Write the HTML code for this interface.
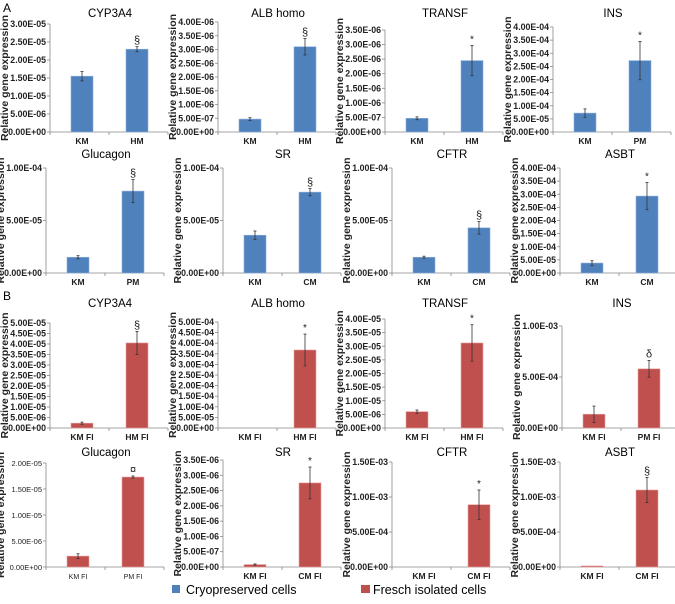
<!DOCTYPE html>
<html><head><meta charset="utf-8"><style>
html,body{margin:0;padding:0;background:#fff;}
body{width:675px;height:599px;overflow:hidden;font-family:"Liberation Sans",Arial,sans-serif;}
</style></head><body>
<svg id="fig" width="675" height="599" viewBox="0 0 675 599" xmlns="http://www.w3.org/2000/svg" font-family="Liberation Sans, Arial, sans-serif">
<text x="3" y="12" font-size="12">A</text>
<text x="3" y="300" font-size="12">B</text>
<g>
<rect x="172" y="585" width="8" height="8" fill="#4f81bd"></rect>
<text x="186" y="594" font-size="12.5">Cryopreserved cells</text>
<rect x="361" y="585" width="9" height="8" fill="#c0504d"></rect>
<text x="373" y="594" font-size="12.5">Fresch isolated cells</text>
</g>
</svg>
<script>
const titles = ["CYP3A4","ALB homo","TRANSF","INS","Glucagon","SR","CFTR","ASBT","CYP3A4","ALB homo","TRANSF","INS","Glucagon","SR","CFTR","ASBT"];
const catsA = [["KM","HM"],["KM","HM"],["KM","HM"],["KM","PM"],["KM","PM"],["KM","CM"],["KM","CM"],["KM","CM"]];
const catsB = [["KM FI","HM FI"],["KM FI","HM FI"],["KM FI","HM FI"],["KM FI","PM FI"],["KM FI","PM FI"],["KM FI","CM FI"],["KM FI","CM FI"],["KM FI","CM FI"]];
const values = [[1.55e-5,2.3e-5],[4.7e-7,3.1e-6],[4.7e-7,2.45e-6],[7.2e-5,2.72e-4],[1.5e-5,7.8e-5],[3.6e-5,7.7e-5],[1.5e-5,4.3e-5],[3.8e-5,2.93e-4],
  [2.3e-6,4.05e-5],[0,3.68e-4],[6e-6,3.12e-5],[1.35e-4,5.8e-4],[2.1e-6,1.73e-5],[8e-8,2.75e-6],[0,8.9e-4],[1.5e-5,1.1e-3]];
const errors = [[1.3e-6,7e-7],[5e-8,3e-7],[5e-8,5.2e-7],[1.6e-5,7.3e-5],[1.5e-6,1.1e-5],[4e-6,3.5e-6],[1e-6,6e-6],[9e-6,5.2e-5],
  [5e-7,5.5e-6],[0,7.5e-5],[6e-7,6.7e-6],[8e-5,8.2e-5],[4.5e-7,2e-7],[2e-8,5.2e-7],[0,2.1e-4],[0,1.8e-4]];
const axisMax = [3e-5,4e-6,3.5e-6,4e-4,1e-4,1e-4,1e-4,4e-4,5e-5,5e-4,4e-5,1e-3,2e-5,3.5e-6,1.5e-3,1.5e-3];
const axisStep = [5e-6,5e-7,5e-7,5e-5,5e-5,5e-5,5e-5,5e-5,5e-6,5e-5,5e-6,5e-4,5e-6,5e-7,5e-4,5e-4];
const sigMarks = ["§","§","*","*","§","§","§","*","§","*","*","δ","¤","*","*","§"];

const layoutAxisX = [50,218,385,553,46,223,392,560,50,218,385,562,46,223,392,560];
const layoutTop = [24,22,30,27,168,168,168,168,323,322,319,326,463,460,462,462];
const layoutBottom = [132,132,132,132,273,273,273,273,428,428,428,428,567,567,567,567];
const layoutTitleY = [17,17,17,17,158,158,158,158,307,307,307,307,456,456,456,456];

const NS="http://www.w3.org/2000/svg";
const svg=document.getElementById('fig');
function mk(tag,attrs,parent){const e=document.createElementNS(NS,tag);for(const k in attrs)e.setAttribute(k,attrs[k]);(parent||svg).appendChild(e);return e;}
function fmt(v){if(v===0)return "0.00E+00";let e=Math.floor(Math.log10(v)+1e-9);let m=v/Math.pow(10,e);if(m>=9.995){m/=10;e+=1;}const s=e<0?"-":"+";const a=Math.abs(e);return m.toFixed(2)+"E"+s+(a<10?"0":"")+a;}

for(let p=0;p<16;p++){
  const isB=p>=8;
  const color=isB?"#c0504d":"#4f81bd";
  const ax=layoutAxisX[p], top=layoutTop[p], bot=layoutBottom[p];
  const max=axisMax[p], step=axisStep[p];
  const yS=v=>bot-(v/max)*(bot-top);
  const g=mk('g',{});
  
  
  const t=mk('text',{x:ax+60,y:layoutTitleY[p],'font-size':11.5,'text-anchor':'middle'},g);
  t.textContent=titles[p];
  
  
  const yt=mk('text',{transform:`translate(${ax-42},${(top+bot)/2}) rotate(-90)`,'font-size':10.5,'font-weight':'bold','text-anchor':'middle',fill:'#222'},g);
  yt.textContent="Relative gene expression";
  
  
  const ya=mk('line',{x1:ax,y1:top,x2:ax,y2:bot,stroke:'#888','stroke-width':0.8},g);
  
  
  const xa=mk('line',{x1:ax,y1:bot,x2:ax+118,y2:bot,stroke:'#888','stroke-width':0.8},g);
  
  
  [0,59,118].forEach(o=>{mk('line',{x1:ax+o,y1:bot,x2:ax+o,y2:bot+3,stroke:'#888','stroke-width':0.8},g);});
  const n=Math.round(max/step);
  const small = (p===12);
  for(let i=0;i<=n;i++){
    const v=i*step, y=yS(v);
    mk('line',{x1:ax-3,y1:y,x2:ax,y2:y,stroke:'#888','stroke-width':0.8},g);
    const tl=mk('text',{x:ax-4,y:y+3,'font-size':small?7.5:8.8,'font-weight':small?'normal':'bold','text-anchor':'end',fill:'#222'},g);
    tl.textContent=fmt(v);
    
    
  }
  const cats=isB?catsB[p-8]:catsA[p];
  for(let j=0;j<2;j++){
    const cx=ax+(j===0?32:87);
    const v=values[p][j], e=errors[p][j];
    if(v>0){
      const b=mk('rect',{x:cx-11,y:yS(v),width:22,height:bot-yS(v),fill:color,stroke:isB?'#e8a0a0':'#8fb0dc','stroke-width':0.6},g);
      
      
    }
    if(e>0){
      mk('line',{x1:cx,y1:yS(v+e),x2:cx,y2:yS(Math.max(0,v-e)),stroke:'#333','stroke-width':0.8},g);
      mk('line',{x1:cx-1.5,y1:yS(v+e),x2:cx+1.5,y2:yS(v+e),stroke:'#333','stroke-width':0.8},g);
      mk('line',{x1:cx-1.5,y1:yS(v-e),x2:cx+1.5,y2:yS(v-e),stroke:'#333','stroke-width':0.8},g);
    }
    const xl=mk('text',{x:cx,y:bot+12,'font-size':small?7:8.5,'font-weight':small?'normal':'bold','text-anchor':'middle',fill:'#222'},g);
    xl.textContent=cats[j];
    
    
  }
  const v1=values[p][1]+errors[p][1];
  const sm=mk('text',{x:ax+87,y:yS(v1)-3,'font-size':sigMarks[p]==='*'?10:11,'text-anchor':'middle',fill:'#222'},g);
  sm.textContent=sigMarks[p];
  
  
}
</script>
</body></html>
